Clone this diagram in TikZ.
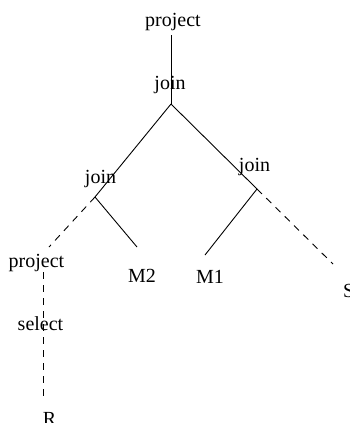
\documentclass[tikz,border=0pt]{standalone}
\usepackage{fontspec}
\setmainfont{Liberation Serif}
\begin{document}
\begin{tikzpicture}[x=1pt, y=-1pt,
  lbl/.style={anchor=base, inner sep=0pt, font=\fontsize{20}{24}\selectfont},
  edge/.style={line width=0.9pt},
  lazy/.style={line width=0.9pt, dash pattern=on 7pt off 6pt}]
  \useasboundingbox (0,0) rectangle (349,423);
  \clip (0,0) rectangle (349,423);

  % operator labels
  \node[lbl] (proj0) at (173,26) {project};
  \node[lbl] (join0) at (170,89) {join};
  \node[lbl] (join1) at (100.5,183) {join};
  \node[lbl] (join2) at (254.5,171) {join};
  \node[lbl] (proj1) at (36.5,267) {project};
  \node[lbl] (sel)   at (40.5,330) {select};

  % relations
  \node[lbl] (relM2) at (142,282) {M2};
  \node[lbl] (relM1) at (210,283) {M1};
  \node[lbl, anchor=base west] (relS) at (343,297) {S};
  \node[lbl] (relR)  at (49.5,425) {R};

  % attachment points of the tree edges
  \coordinate (p0)  at (171,35);
  \coordinate (j0)  at (171,104);
  \coordinate (j1)  at (95,197);
  \coordinate (j2)  at (257,189);
  \coordinate (p1)  at (49,247);
  \coordinate (p1b) at (43,272);
  \coordinate (r)   at (43,399);
  \coordinate (m2)  at (137,247);
  \coordinate (m1)  at (205,255);
  \coordinate (s)   at (333,264);

  % solid edges
  \draw[edge] (p0) -- (j0);
  \draw[edge] (j0) -- (j1);
  \draw[edge] (j0) -- (j2);
  \draw[edge] (j1) -- (m2);
  \draw[edge] (j2) -- (m1);

  % dashed edges
  \draw[lazy] (j1) -- (p1);
  \draw[lazy] (p1b) -- (r);
  \draw[lazy] (j2) -- (s);
\end{tikzpicture}
\end{document}
